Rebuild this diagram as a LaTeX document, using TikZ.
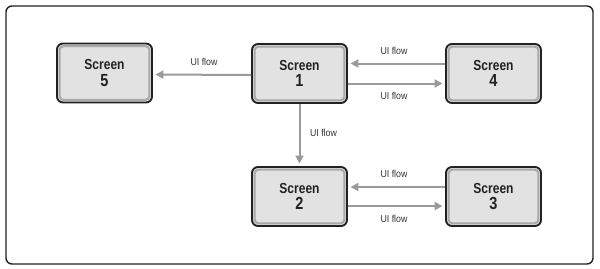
\documentclass[tikz,border=0pt]{standalone}
\usepackage{fontspec}
\usetikzlibrary{arrows.meta}
\newfontfamily\condbold{Liberation Sans}[FakeStretch=0.83]
\newfontfamily\condlab{Liberation Sans}[FakeStretch=0.88]
\definecolor{boxfill}{HTML}{E2E2E2}
\definecolor{boxband}{HTML}{A8A8A8}
\definecolor{boxline}{HTML}{222222}
\definecolor{flowgray}{HTML}{9A9A9A}
\definecolor{labtext}{HTML}{333333}
\begin{document}
\begin{tikzpicture}[x=1pt,y=-1pt,
  screenbox/.style={draw=boxline, line width=1.9pt, fill=boxfill, rounded corners=6pt,
    minimum width=95pt, minimum height=59pt, inner sep=0pt, align=center,
    text=boxline,
    path picture={\draw[boxband, line width=2pt, rounded corners=4pt]
      ([xshift=2.6pt,yshift=-2.6pt]path picture bounding box.north west) rectangle
      ([xshift=-2.6pt,yshift=2.6pt]path picture bounding box.south east);}},
  flow/.style={draw=flowgray, line width=2pt, -{Triangle[length=8pt,width=8pt]}, shorten >=2.5pt},
  flowlab/.style={font=\condlab\fontsize{10}{12}\selectfont, text=labtext, inner sep=0pt}
]
\useasboundingbox (0,0) rectangle (600,268);
\node[draw=boxline, line width=1.4pt, rounded corners=6pt, minimum width=587pt, minimum height=258pt, inner sep=0pt] (frame) at (299.5,135) {};

\newcommand{\scr}[1]{{\condbold\bfseries\fontsize{14.5}{16}\selectfont Screen}\\[3pt]{\condbold\bfseries\fontsize{17.5}{18}\selectfont #1}}

\node[screenbox] (s5) at (104.5,73) {\scr{5}};
\node[screenbox] (s1) at (299.5,73.5) {\scr{1}};
\node[screenbox] (s4) at (493.5,73.5) {\scr{4}};
\node[screenbox] (s2) at (299.5,196.5) {\scr{2}};
\node[screenbox] (s3) at (493.5,196.5) {\scr{3}};

\draw[flow] ([yshift=-1.5pt]s1.west) -- ([yshift=-1.5pt]s5.east);
\draw[flow] ([yshift=10pt]s4.west) -- ([yshift=10pt]s1.east);
\draw[flow] ([yshift=-10pt]s1.east) -- ([yshift=-10pt]s4.west);
\draw[flow] (s1.south) -- (s2.north);
\draw[flow] ([yshift=9.5pt]s3.west) -- ([yshift=9.5pt]s2.east);
\draw[flow] ([yshift=-9.5pt]s2.east) -- ([yshift=-9.5pt]s3.west);

\node[flowlab] (l15) at (204,62) {UI flow};
\node[flowlab] (l41) at (394,51) {UI flow};
\node[flowlab] (l14) at (394,95.5) {UI flow};
\node[flowlab] (l12) at (323.5,133) {UI flow};
\node[flowlab] (l32) at (394,174) {UI flow};
\node[flowlab] (l23) at (394,219) {UI flow};
\end{tikzpicture}
\end{document}
